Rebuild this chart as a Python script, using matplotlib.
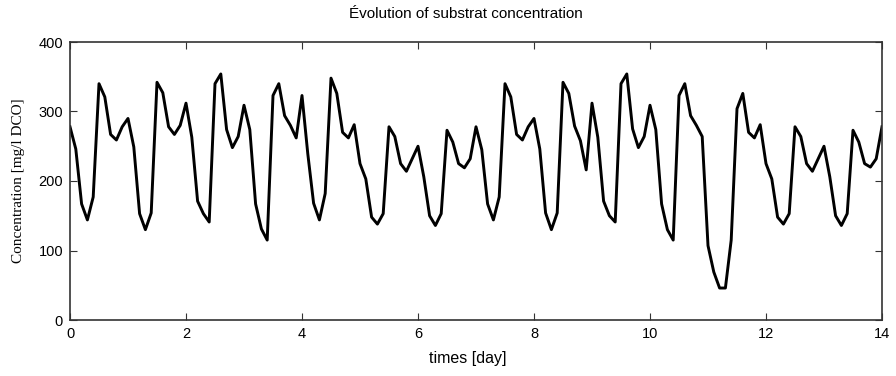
import numpy as np
import matplotlib
matplotlib.use("Agg")
import matplotlib.pyplot as plt

# time in days (every 0.1 day)
times = np.round(np.arange(0, 141) * 0.1, 1)

week1 = [278, 246, 167, 144, 177, 340, 321, 267, 259, 278,
         290, 249, 153, 130, 154, 342, 327, 278, 267, 280,
         312, 263, 171, 153, 141, 340, 354, 274, 248, 264,
         309, 274, 167, 131, 115, 323, 340, 294, 280, 262,
         323, 239, 168, 144, 182, 348, 326, 270, 262, 281,
         225, 203, 148, 138, 153, 278, 264, 225, 214, 232,
         250, 206, 150, 136, 153, 273, 256, 225, 219, 232]
week2 = [278, 245, 167, 144, 177, 340, 321, 267, 259, 278,
         290, 246, 154, 130, 154, 342, 326, 279, 258, 216,
         312, 263, 171, 150, 141, 340, 354, 275, 248, 264,
         309, 274, 167, 130, 115, 323, 340, 294, 280, 264,
         107, 69, 46, 46, 115, 304, 326, 270, 262, 281,
         225, 203, 148, 138, 153, 278, 264, 225, 214, 232,
         250, 206, 150, 136, 153, 273, 256, 225, 220, 232,
         278]
concentration = week1 + week2

x_ticks = [0, 2, 4, 6, 8, 10, 12, 14]
y_ticks = [0, 100, 200, 300, 400]

plt.rcParams['font.family'] = ['Liberation Sans', 'DejaVu Sans']

fig = plt.figure(figsize=(8.96, 3.76), dpi=100)
ax = fig.add_axes([70/896, 56/376, 812/896, 278/376])
ax.plot(times, concentration, color='black', linewidth=2.1)
ax.set_xlim(0, 14)
ax.set_ylim(0, 400)
ax.set_xticks(x_ticks)
ax.set_yticks(y_ticks)
ax.tick_params(direction='in', top=True, right=True, length=5, width=0.8,
               labelsize=10.5, colors='#333333', labelcolor='black', pad=5)
for s in ax.spines.values():
    s.set_color('#333333')
    s.set_linewidth(1.2)
ax.set_title('Évolution of substrat concentration', fontsize=11, pad=17, x=0.487)
ax.set_xlabel('times [day]', fontsize=11.5, labelpad=7, x=0.49)
ax.set_ylabel('Concentration [mg/l DCO]', fontsize=11,
              family=['Liberation Serif', 'DejaVu Serif'], labelpad=10)

fig.savefig('out.png', dpi=100)
